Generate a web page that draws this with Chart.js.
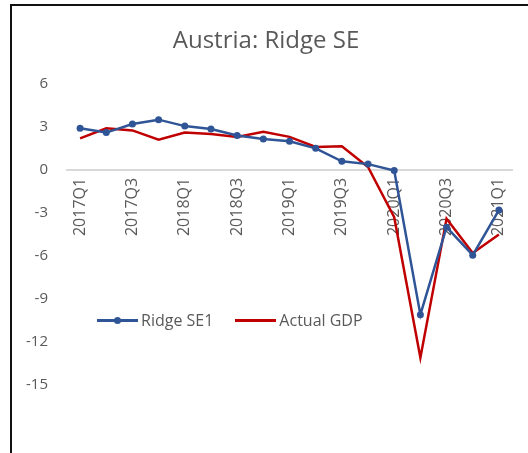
<!DOCTYPE html>
<html>
<head>
<meta charset="utf-8">
<script src="https://cdn.jsdelivr.net/npm/chart.js@4/dist/chart.umd.min.js"></script>
<style>
  html, body { margin: 0; padding: 0; background: #fff; }
  body { width: 528px; height: 453px; position: relative; overflow: hidden; }
  #chart { position: absolute; left: 0; top: 0; }
  #frame {
    position: absolute; left: 10px; top: 4px; width: 600px; height: 600px;
    border: 2px solid #111; box-sizing: border-box;
  }
  #legend {
    position: absolute; left: 97px; top: 309px; display: flex; align-items: center;
    font-family: "Open Sans", sans-serif; font-size: 16px; color: #595959;
  }
  .item { display: flex; align-items: center; margin-right: 22px; }
  .swatch { position: relative; width: 41px; height: 3px; margin-right: 3px; }
  .dot { position: absolute; left: 17px; top: -2px; width: 7px; height: 7px; border-radius: 50%; }
</style>
</head>
<body>
<div id="frame"></div>
<canvas id="chart" width="528" height="453"></canvas>
<div id="legend"></div>
<script>
// quarters on the category axis
const quarters = ['2017Q1', '2017Q2', '2017Q3', '2017Q4', '2018Q1', '2018Q2', '2018Q3', '2018Q4',
  '2019Q1', '2019Q2', '2019Q3', '2019Q4', '2020Q1', '2020Q2', '2020Q3', '2020Q4', '2021Q1'];

const ridgeSE1 = [2.9, 2.6, 3.2, 3.5, 3.05, 2.85, 2.4, 2.15, 2.0, 1.5, 0.6, 0.4, -0.05, -10.1, -4.0, -5.95, -2.8];
const actualGDP = [2.2, 2.9, 2.75, 2.1, 2.6, 2.5, 2.3, 2.65, 2.3, 1.6, 1.65, 0.2, -3.3, -13.1, -3.4, -5.8, -4.5];

const yTicks = [6, 3, 0, -3, -6, -9, -12, -15];

const textColor = '#595959';
const font = '"Open Sans", sans-serif';

const chart = new Chart(document.getElementById('chart'), {
  type: 'line',
  data: {
    labels: quarters,
    datasets: [{
      label: 'Ridge SE1',
      data: ridgeSE1,
      borderColor: '#2F5597',
      backgroundColor: '#2F5597',
      borderWidth: 2.5,
      pointRadius: 3.5,
      pointBorderWidth: 0,
      tension: 0
    }, {
      label: 'Actual GDP',
      data: actualGDP,
      borderColor: '#C00000',
      backgroundColor: '#C00000',
      borderWidth: 2.5,
      pointRadius: 0,
      tension: 0
    }]
  },
  options: {
    responsive: false,
    animation: false,
    layout: { padding: { left: 20, right: 16, top: 0, bottom: 68 } },
    plugins: {
      legend: { display: false },
      tooltip: { enabled: false },
      title: {
        display: true,
        text: 'Austria: Ridge SE',
        color: textColor,
        font: { family: font, size: 24, weight: 'normal', lineHeight: 1.2 },
        padding: { top: 27, bottom: 28 }
      }
    },
    scales: {
      x: {
        position: { y: 0 },
        offset: true,
        grid: { display: false, drawTicks: false },
        border: { color: '#D9D9D9', width: 2 },
        ticks: {
          autoSkip: false,
          minRotation: 90,
          maxRotation: 90,
          padding: 8,
          color: textColor,
          font: { family: font, size: 16 },
          callback: function (val, i) { return i % 2 === 0 ? this.getLabelForValue(val) : ''; }
        }
      },
      y: {
        min: Math.min(...yTicks),
        max: Math.max(...yTicks),
        grid: { display: false, drawTicks: false },
        border: { display: false },
        afterFit: scale => { scale.width = 47; },
        afterBuildTicks: scale => { scale.ticks = yTicks.map(v => ({ value: v })); },
        ticks: {
          padding: 19,
          color: textColor,
          font: { family: font, size: 15 }
        }
      }
    }
  }
});

// legend drawn as html from the datasets
const legend = document.getElementById('legend');
chart.data.datasets.forEach(ds => {
  const item = document.createElement('div');
  item.className = 'item';
  const sw = document.createElement('div');
  sw.className = 'swatch';
  sw.style.background = ds.borderColor;
  if (ds.pointRadius > 0) {
    const dot = document.createElement('div');
    dot.className = 'dot';
    dot.style.background = ds.backgroundColor;
    sw.appendChild(dot);
  }
  const txt = document.createElement('span');
  txt.textContent = ds.label;
  item.appendChild(sw);
  item.appendChild(txt);
  legend.appendChild(item);
});
</script>
</body>
</html>
